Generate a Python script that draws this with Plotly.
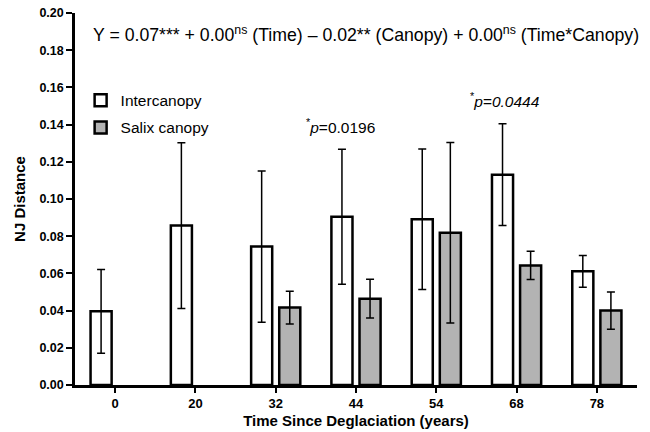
import plotly.graph_objects as go

categories = ["0", "20", "32", "44", "54", "68", "78"]
intercanopy = [0.0396, 0.0857, 0.0744, 0.0905, 0.0891, 0.1131, 0.0611]
intercanopy_err = [0.0225, 0.0446, 0.0407, 0.0363, 0.0378, 0.0274, 0.0085]
salix = [None, None, 0.0416, 0.0464, 0.0819, 0.0643, 0.0400]
salix_err = [None, None, 0.0088, 0.0104, 0.0485, 0.0076, 0.0100]
y_ticks = [0.00, 0.02, 0.04, 0.06, 0.08, 0.10, 0.12, 0.14, 0.16, 0.18, 0.20]

FONT = "Arial, Liberation Sans, sans-serif"

fig = go.Figure()
fig.add_trace(go.Bar(
    x=categories, y=intercanopy, name="Intercanopy", legendgroup="a",
    marker=dict(color="white", line=dict(color="black", width=2.5)),
    error_y=dict(type="data", array=intercanopy_err, visible=True,
                 color="black", thickness=1.5, width=4),
))
fig.add_trace(go.Bar(
    x=categories, y=salix, name="Salix canopy", legendgroup="b",
    marker=dict(color="#b3b3b3", line=dict(color="black", width=2.5)),
    error_y=dict(type="data", array=salix_err, visible=True,
                 color="black", thickness=1.5, width=4),
))

fig.update_layout(
    width=650, height=432,
    margin=dict(l=75, r=13, t=13, b=47),
    paper_bgcolor="white", plot_bgcolor="white",
    barmode="group", bargap=0.3, bargroupgap=0.25,
    font=dict(family=FONT, color="black"),
    showlegend=True,
    legend=dict(x=0.01, y=0.81, xanchor="left", yanchor="top",
                font=dict(size=15.5, family=FONT), bgcolor="rgba(0,0,0,0)",
                traceorder="grouped", tracegroupgap=4, itemwidth=30),
    xaxis=dict(
        type="category", range=[-0.5, 6.5], automargin=False,
        showline=True, linecolor="black", linewidth=2.5,
        ticks="outside", ticklen=5, tickwidth=2, tickcolor="black",
        tickfont=dict(size=13, family=FONT, weight="bold"),
        title=dict(text="<b>Time Since Deglaciation (years)</b>",
                   font=dict(size=15, family=FONT), standoff=6),
        showgrid=False, zeroline=False,
    ),
    yaxis=dict(
        range=[0, 0.2], tickvals=y_ticks, tickformat=".2f", automargin=False,
        showline=True, linecolor="black", linewidth=2.5,
        ticks="outside", ticklen=6, tickwidth=2, tickcolor="black",
        tickfont=dict(size=12.5, family=FONT, weight="bold"),
        title=dict(text="<b>NJ Distance</b>",
                   font=dict(size=15, family=FONT), standoff=11),
        showgrid=False, zeroline=False,
    ),
)

fig.add_annotation(
    x=1.0, y=0.2 - 0.0115, xref="paper", yref="y", xanchor="right",
    yanchor="middle", showarrow=False, xshift=4,
    text="Y = 0.07*** + 0.00<sup>ns</sup> (Time) \u2013 0.02** (Canopy) + 0.00<sup>ns</sup> (Time*Canopy)",
    font=dict(size=17.7, family=FONT),
)
fig.add_annotation(
    x=3, y=0.139, xref="x", yref="y", xanchor="center", yanchor="middle",
    showarrow=False, text="<sup>*</sup><i>p</i>=0.0196", xshift=-16,
    font=dict(size=15.5, family=FONT),
)
fig.add_annotation(
    x=5, y=0.153, xref="x", yref="y", xanchor="center", yanchor="middle",
    showarrow=False, text="<sup>*</sup><i>p=0.0444</i>", xshift=-12,
    font=dict(size=15.5, family=FONT),
)

fig.write_html("out.html")
